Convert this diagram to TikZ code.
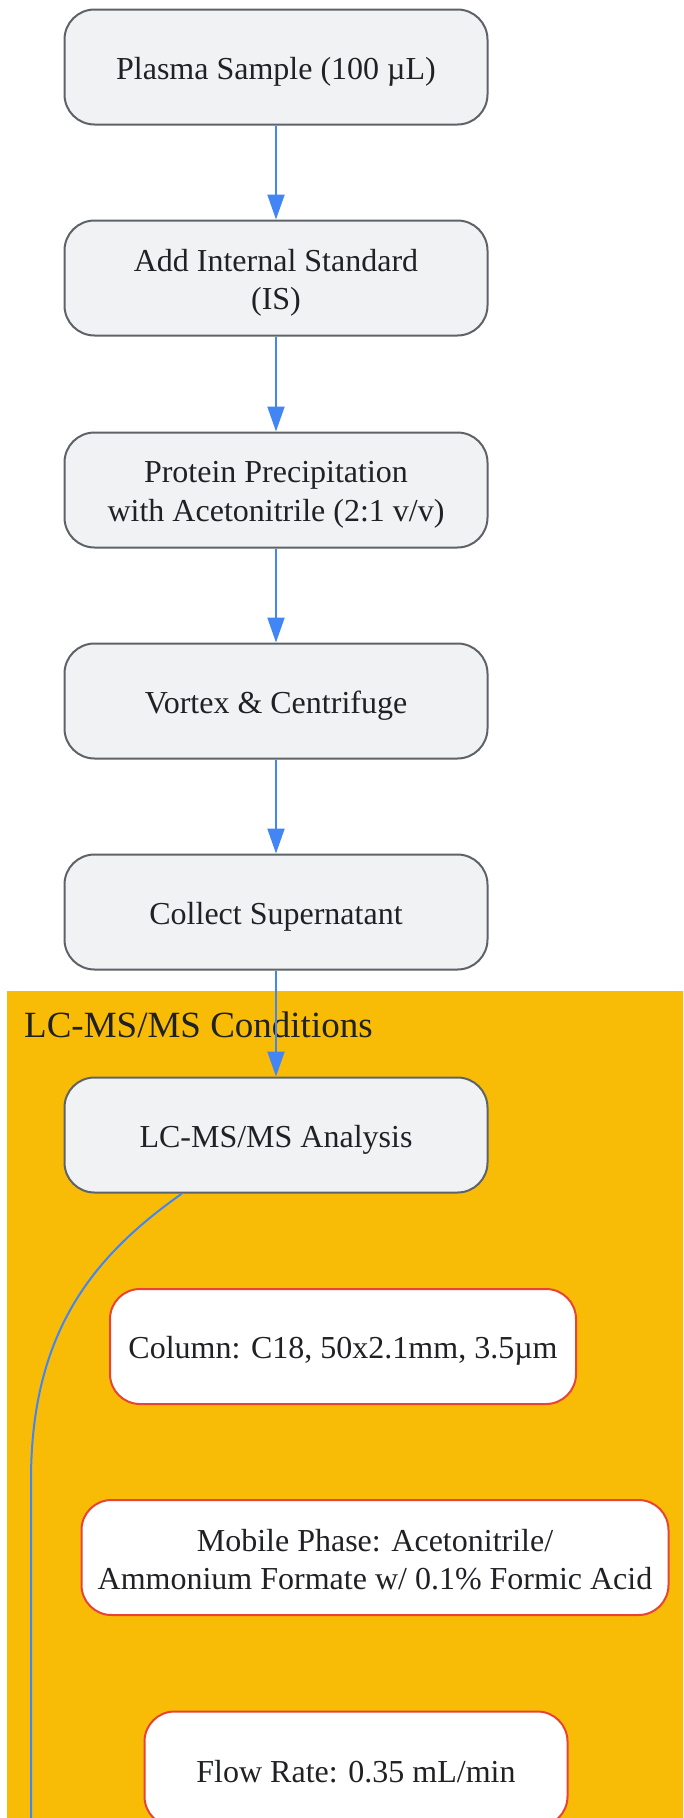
\documentclass[tikz,border=0pt]{standalone}
\usepackage{fontspec}
\setmainfont{Liberation Serif}
\usetikzlibrary{arrows.meta,calc}
\definecolor{boxfill}{HTML}{F1F2F4}
\definecolor{boxline}{HTML}{5F6368}
\definecolor{redline}{HTML}{EA4335}
\definecolor{clusterfill}{HTML}{F9BC06}
\definecolor{arrowblue}{HTML}{4285F4}
\definecolor{textcol}{HTML}{202124}
\begin{document}
\begin{tikzpicture}[x=1pt,y=-1pt,
  nodefont/.style={font=\fontsize{32}{38.5}\selectfont},
  stepbox/.style={draw=boxline, fill=boxfill, line width=2pt, rounded corners=30pt,
    minimum width=423pt, minimum height=115pt, inner sep=0pt},
  condbox/.style={draw=redline, fill=white, line width=2pt, rounded corners=30pt,
    minimum height=115pt, inner sep=0pt},
  boxtext/.style={align=center, text=textcol, inner sep=0pt, nodefont},
  flow/.style={draw=arrowblue, line width=2pt, -{Triangle[length=25pt,width=17pt]}},
  link/.style={draw=arrowblue, line width=2pt}]
\fill[white] (0,0) rectangle (683,1818);
\clip (0,0) rectangle (683,1818);
% cluster
\fill[clusterfill] (7,991) rectangle (700,1840);
\node[anchor=base west, text=textcol, inner sep=0pt, font=\fontsize{37}{44}\selectfont] (title) at (24,1037) {LC-MS/MS Conditions};
% main steps
\node[stepbox] (b1) at (276,67) {};
\node[stepbox] (b2) at (276,278) {};
\node[stepbox] (b3) at (276,490) {};
\node[stepbox] (b4) at (276,701) {};
\node[stepbox] (b5) at (276,912) {};
\node[stepbox] (b6) at (276,1135) {};
\node[boxtext] (t1) at ($(b1.center)+(0,5)$) {Plasma Sample (100 µL)};
\node[boxtext] (t2) at ($(b2.center)+(0,5)$) {Add Internal Standard\\(IS)};
\node[boxtext] (t3) at ($(b3.center)+(0,5)$) {Protein Precipitation\\with Acetonitrile (2:1 v/v)};
\node[boxtext] (t4) at ($(b4.center)+(0,5)$) {Vortex \& Centrifuge};
\node[boxtext] (t5) at ($(b5.center)+(0,5)$) {Collect Supernatant};
\node[boxtext] (t6) at ($(b6.center)+(0,5)$) {LC-MS/MS Analysis};
% conditions
\node[condbox, minimum width=466pt] (c1) at (343,1346.5) {};
\node[condbox, minimum width=587pt] (c2) at (375,1557.5) {};
\node[condbox, minimum width=423pt] (c3) at (356,1769) {};
\node[boxtext] (u1) at ($(c1.center)+(0,4)$) {Column: C18, 50x2.1mm, 3.5µm};
\node[boxtext] (u2) at ($(c2.center)+(0,2)$) {Mobile Phase: Acetonitrile/\\Ammonium Formate w/ 0.1\% Formic Acid};
\node[boxtext] (u3) at ($(c3.center)+(0,3)$) {Flow Rate: 0.35 mL/min};
% connectors
\draw[flow] (b1) -- (b2);
\draw[flow] (b2) -- (b3);
\draw[flow] (b3) -- (b4);
\draw[flow] (b4) -- (b5);
\draw[flow] (b5) -- (b6);
\coordinate (tail) at (31,1840);
\draw[link] ($(b6.south)+(-94,0)$) .. controls (95,1255) and (31,1330) .. (31,1480) -- (tail);
\end{tikzpicture}
\end{document}
